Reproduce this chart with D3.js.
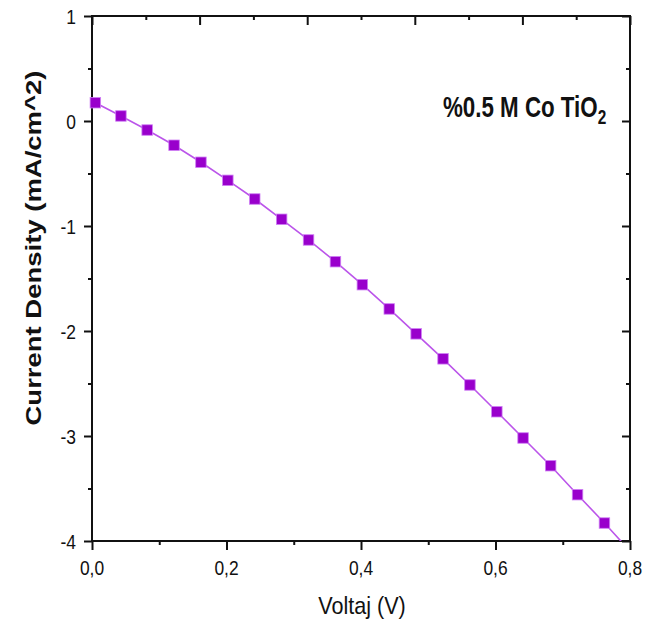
<!DOCTYPE html>
<html>
<head>
<meta charset="utf-8">
<script src="https://cdn.jsdelivr.net/npm/d3@7"></script>
<style>
  html, body { margin: 0; padding: 0; background: #fff; }
  svg { display: block; }
  text { font-family: "Liberation Sans", Arial, sans-serif; fill: #111; }
</style>
</head>
<body>
<div id="chart"></div>
<script>
// ---- data ----
const voltage = [0.005, 0.043, 0.082, 0.122, 0.162, 0.202, 0.242, 0.282, 0.322, 0.362,
                 0.402, 0.442, 0.482, 0.522, 0.562, 0.602, 0.641, 0.682, 0.722, 0.762];
const currentDensity = [0.174, 0.048, -0.086, -0.231, -0.393, -0.565, -0.743, -0.936, -1.133, -1.340,
                        -1.559, -1.790, -2.027, -2.265, -2.514, -2.769, -3.019, -3.283, -3.559, -3.829];
// line continues beyond the last marker, out of the frame
const lineTailVoltage = [0.802];
const lineTailCurrent = [-4.11];

const xMajorTicks = [0, 0.2, 0.4, 0.6, 0.8];
const xMinorTicks = [0.1, 0.3, 0.5, 0.7];
const yMajorTicks = [1, 0, -1, -2, -3, -4];
const yMinorTicks = [0.5, -0.5, -1.5, -2.5, -3.5];
const topTickIndex = [0, 1, 2, 3, 4, 5, 6, 7, 8, 9, 10];   // top axis: 10 divisions

const seriesLabel = "%0.5 M Co TiO";
const seriesSub = "2";
const xTitle = "Voltaj (V)";
const yTitle = "Current Density (mA/cm^2)";

// ---- layout ----
const W = 659, H = 623;
const pL = 92, pR = 630, pT = 16, pB = 541;

const svg = d3.select("#chart").append("svg").attr("width", W).attr("height", H);

const x = d3.scaleLinear().domain([0, 0.8]).range([pL, pR]);
const y = d3.scaleLinear().domain([-4, 1]).range([pB, pT]);
const xTop = d3.scaleLinear().domain([0, 10]).range([pL, pR]);

const fmt = v => d3.format(".1f")(v).replace(".", ",");

// ---- clip ----
svg.append("clipPath").attr("id", "plotclip")
  .append("rect").attr("x", pL).attr("y", pT).attr("width", pR - pL).attr("height", pB - pT);

// ---- axes ----
const axisStroke = "#111";
function styleAxis(g) {
  g.select(".domain").remove();
  g.selectAll(".tick line").attr("stroke", axisStroke).attr("stroke-width", 2);
  g.selectAll(".tick text").remove();
}

// bottom: outward
svg.append("g").attr("transform", `translate(0,${pB})`)
  .call(d3.axisBottom(x).tickValues(xMajorTicks).tickSize(9)).call(styleAxis);
svg.append("g").attr("transform", `translate(0,${pB})`)
  .call(d3.axisBottom(x).tickValues(xMinorTicks).tickSize(4)).call(styleAxis);
// left: outward
svg.append("g").attr("transform", `translate(${pL},0)`)
  .call(d3.axisLeft(y).tickValues(yMajorTicks).tickSize(8)).call(styleAxis);
svg.append("g").attr("transform", `translate(${pL},0)`)
  .call(d3.axisLeft(y).tickValues(yMinorTicks).tickSize(4)).call(styleAxis);
// right: inward
svg.append("g").attr("transform", `translate(${pR},0)`)
  .call(d3.axisRight(y).tickValues(yMajorTicks).tickSize(-8)).call(styleAxis);
svg.append("g").attr("transform", `translate(${pR},0)`)
  .call(d3.axisRight(y).tickValues(yMinorTicks).tickSize(-4)).call(styleAxis);
// top: inward, 10 divisions
svg.append("g").attr("transform", `translate(0,${pT})`)
  .call(d3.axisTop(xTop).tickValues(topTickIndex.filter(d => d % 2 === 0)).tickSize(-9)).call(styleAxis);
svg.append("g").attr("transform", `translate(0,${pT})`)
  .call(d3.axisTop(xTop).tickValues(topTickIndex.filter(d => d % 2 === 1)).tickSize(-4)).call(styleAxis);

// frame
svg.append("rect").attr("x", pL).attr("y", pT).attr("width", pR - pL).attr("height", pB - pT)
  .attr("fill", "none").attr("stroke", axisStroke).attr("stroke-width", 2);

// tick labels (condensed like the reference)
const tickFont = 21, tickSX = 0.83;
svg.append("g").selectAll("text").data(xMajorTicks).join("text")
  .attr("transform", d => `translate(${x(d)},575) scale(${tickSX},1)`)
  .attr("text-anchor", "middle").attr("font-size", tickFont).text(fmt);
svg.append("g").selectAll("text").data(yMajorTicks).join("text")
  .attr("transform", d => `translate(76,${y(d)}) scale(${tickSX},1)`)
  .attr("text-anchor", "end").attr("dy", "0.36em").attr("font-size", tickFont)
  .text(d => d === 0 ? "0" : (d < 0 ? "-" + Math.abs(d) : String(d)));

// axis titles
svg.append("text")
  .attr("transform", `translate(362,614) scale(0.9,1)`)
  .attr("text-anchor", "middle").attr("font-size", 24).text(xTitle);
svg.append("text")
  .attr("transform", `translate(41,248) rotate(-90) scale(1,0.82)`)
  .attr("text-anchor", "middle").attr("font-size", 27.5).attr("font-weight", "bold").text(yTitle);

// series label
const lbl = svg.append("text")
  .attr("transform", `translate(443,116.7) scale(0.77,1)`)
  .attr("font-size", 29).attr("font-weight", "bold");
lbl.append("tspan").text(seriesLabel);
lbl.append("tspan").attr("font-size", 20).attr("dy", 7).text(seriesSub);

// ---- series ----
const pts = voltage.map((v, i) => ({ v, c: currentDensity[i] }));
const linePts = pts.concat(lineTailVoltage.map((v, i) => ({ v, c: lineTailCurrent[i] })));

const plot = svg.append("g").attr("clip-path", "url(#plotclip)");
plot.append("path").datum(linePts)
  .attr("fill", "none").attr("stroke", "#bb55ea").attr("stroke-width", 1.6)
  .attr("d", d3.line().x(d => x(d.v)).y(d => y(d.c)));

const ms = 10.5;
svg.append("g").selectAll("rect").data(pts).join("rect")
  .attr("x", d => x(d.v) - ms / 2).attr("y", d => y(d.c) - ms / 2)
  .attr("width", ms).attr("height", ms)
  .attr("fill", "#9900cc").attr("stroke", "#cf7ff5").attr("stroke-width", 0.8);
</script>
</body>
</html>
